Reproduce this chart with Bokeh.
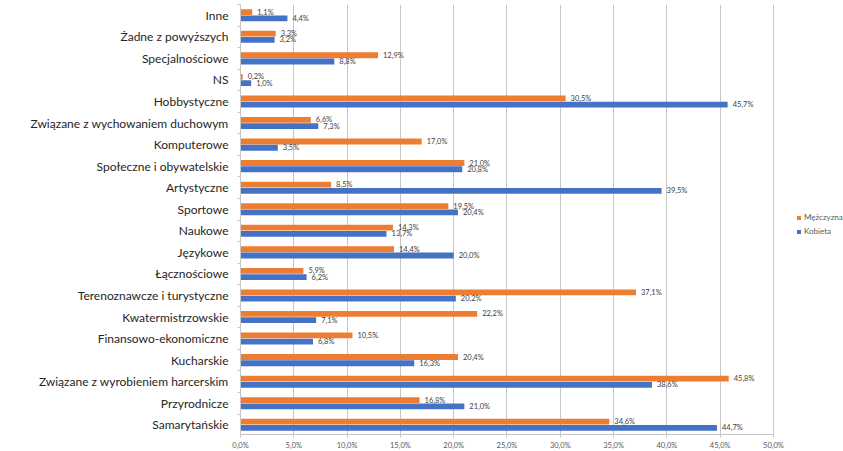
from bokeh.plotting import figure
from bokeh.models import ColumnDataSource, Range1d, FixedTicker, Legend, LegendItem
from bokeh.transform import dodge
from bokeh.core.properties import value
from bokeh.embed import file_html
from bokeh.resources import INLINE

# Categories from bottom to top (Excel order)
categories = ["Samarytańskie", "Przyrodnicze", "Związane z wyrobieniem harcerskim",
              "Kucharskie", "Finansowo-ekonomiczne", "Kwatermistrzowskie",
              "Terenoznawcze i turystyczne", "Łącznościowe", "Językowe", "Naukowe",
              "Sportowe", "Artystyczne", "Społeczne i obywatelskie", "Komputerowe",
              "Związane z wychowaniem duchowym", "Hobbystyczne", "NS",
              "Specjalnościowe", "Żadne z powyższych", "Inne"]
men = [34.6, 16.8, 45.8, 20.4, 10.5, 22.2, 37.1, 5.9, 14.4, 14.3,
       19.5, 8.5, 21.0, 17.0, 6.6, 30.5, 0.2, 12.9, 3.3, 1.1]
women = [44.7, 21.0, 38.6, 16.3, 6.8, 7.1, 20.2, 6.2, 20.0, 13.7,
         20.4, 39.5, 20.8, 3.5, 7.3, 45.7, 1.0, 8.8, 3.2, 4.4]
series_names = ["Mężczyzna", "Kobieta"]
x_ticks = [0, 5, 10, 15, 20, 25, 30, 35, 40, 45, 50]
x_tick_labels = ["0,0%", "5,0%", "10,0%", "15,0%", "20,0%", "25,0%",
                 "30,0%", "35,0%", "40,0%", "45,0%", "50,0%"]

ORANGE = "#ED7D31"
BLUE = "#4472C4"
FONT = "Lato"
GRID = "#c6c6c6"

def fmt(v):
    return f"{v:.1f}".replace(".", ",") + "%"

pos = list(range(len(categories)))
src = ColumnDataSource(dict(
    pos=pos, cat=categories, men=men, women=women,
    men_lbl=[fmt(v) for v in men], women_lbl=[fmt(v) for v in women],
))

# frame extends past 50% so that the legend (drawn inside the frame) fits
p = figure(frame_width=603, frame_height=430, output_backend="svg", toolbar_location=None,
           x_range=Range1d(0, 56.57), y_range=Range1d(-0.45, 19.5),
           min_border_left=240, min_border_right=0, min_border_top=4,
           min_border_bottom=17)
p.outline_line_color = None
p.background_fill_color = "white"
p.border_fill_color = "white"

off = 0.145
h = 0.27
r_m = p.hbar(y=dodge("pos", off, range=p.y_range), left=0, right="men", height=h,
             source=src, fill_color=ORANGE, line_color=None)
r_w = p.hbar(y=dodge("pos", -off, range=p.y_range), left=0, right="women", height=h,
             source=src, fill_color=BLUE, line_color=None)

p.text(x="men", y=dodge("pos", off, range=p.y_range), text="men_lbl", source=src,
       x_offset=5, text_baseline="middle", text_align="left",
       text_font=value(FONT), text_font_size="7.5px", text_color="#404040")
p.text(x="women", y=dodge("pos", -off, range=p.y_range), text="women_lbl", source=src,
       x_offset=5, text_baseline="middle", text_align="left",
       text_font=value(FONT), text_font_size="7.5px", text_color="#404040")

# x axis
p.xaxis.ticker = FixedTicker(ticks=x_ticks, minor_ticks=[])
p.xaxis.bounds = (x_ticks[0], x_ticks[-1])
p.xaxis.major_label_overrides = {t: l for t, l in zip(x_ticks, x_tick_labels)}
p.xaxis.axis_line_color = GRID
p.xaxis.major_tick_line_color = GRID
p.xaxis.major_tick_out = 3
p.xaxis.major_tick_in = 0
p.xaxis.minor_tick_line_color = None
p.xaxis.major_label_text_font = FONT
p.xaxis.major_label_text_font_size = "7.5px"
p.xaxis.major_label_text_color = "#595959"
p.xaxis.major_label_standoff = 3

# y axis
p.yaxis.ticker = FixedTicker(ticks=pos, minor_ticks=[i - 0.5 for i in range(len(categories) + 1)])
p.yaxis.major_label_overrides = {i: c for i, c in zip(pos, categories)}
p.yaxis.axis_line_color = GRID
p.yaxis.major_tick_line_color = None
p.yaxis.minor_tick_line_color = GRID
p.yaxis.minor_tick_out = 3
p.yaxis.minor_tick_in = 0
p.yaxis.major_label_text_font = FONT
p.yaxis.major_label_text_font_size = "12px"
p.yaxis.major_label_text_color = "#262626"
p.yaxis.major_label_standoff = 6

p.xgrid.grid_line_color = GRID
p.ygrid.grid_line_color = None

legend = Legend(items=[LegendItem(label=series_names[0], renderers=[r_m]),
                       LegendItem(label=series_names[1], renderers=[r_w])],
                location=(556, 198), orientation="vertical")
legend.border_line_color = None
legend.background_fill_alpha = 0
legend.margin = 0
legend.padding = 0
legend.spacing = 4
legend.glyph_width = 5
legend.glyph_height = 5
legend.label_height = 10
legend.label_standoff = 3
legend.label_text_font = FONT
legend.label_text_font_size = "8px"
legend.label_text_color = "#595959"
p.add_layout(legend, "center")

open("out.html", "w").write(file_html(p, INLINE))
